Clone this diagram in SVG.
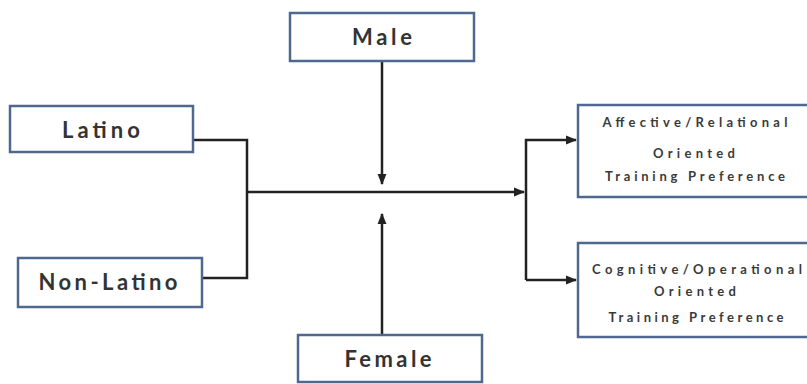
<svg xmlns="http://www.w3.org/2000/svg" width="807" height="384" viewBox="0 0 807 384">
<defs>
<marker id="ah" viewBox="0 0 10 10" refX="9" refY="5" markerWidth="4.5" markerHeight="4.5" orient="auto" markerUnits="strokeWidth">
<path d="M0,1 L10,5 L0,9 z" fill="#222"/>
</marker>
<style>
.box{fill:#fff;stroke:#4e6890;stroke-width:2.5}
.lbl{font-family:Lato,"Liberation Sans",sans-serif;font-weight:bold;font-size:22px;fill:#333;text-anchor:middle}
.sm{font-family:Lato,"Liberation Sans",sans-serif;font-weight:bold;font-size:13px;fill:#3a3a3a;text-anchor:middle}
.ln{fill:none;stroke:#222;stroke-width:2.5}
</style>
</defs>
<rect width="807" height="384" fill="#fff"/>
<g id="connectors">
<path class="ln" d="M382,61 V184" marker-end="url(#ah)"/>
<path class="ln" d="M382,335 V214" marker-end="url(#ah)"/>
<path class="ln" d="M193,140 H247 V278 H202"/>
<path class="ln" d="M247,192 H524" marker-end="url(#ah)"/>
<path class="ln" d="M526,280 V140 H576" marker-end="url(#ah)"/>
<path class="ln" d="M526,280 H576" marker-end="url(#ah)"/>
</g>
<g id="male">
<rect class="box" x="290" y="13" width="184" height="48"/>
<text class="lbl" x="382" y="45" textLength="60" lengthAdjust="spacing">Male</text>
</g>
<g id="latino">
<rect class="box" x="10" y="106" width="183" height="46"/>
<text class="lbl" x="101" y="138" textLength="78" lengthAdjust="spacing">Latino</text>
</g>
<g id="nonlatino">
<rect class="box" x="18" y="258" width="184" height="49"/>
<text class="lbl" x="108" y="290" textLength="139" lengthAdjust="spacing">Non-Latino</text>
</g>
<g id="female">
<rect class="box" x="298" y="335" width="184" height="47"/>
<text class="lbl" x="388" y="367" textLength="87" lengthAdjust="spacing">Female</text>
</g>
<g id="affective">
<rect class="box" x="578" y="105" width="240" height="92"/>
<text class="sm" x="695" y="127" textLength="185" lengthAdjust="spacing">Affective/Relational</text>
<text class="sm" x="694" y="158" textLength="82" lengthAdjust="spacing">Oriented</text>
<text class="sm" x="695" y="181" textLength="180" lengthAdjust="spacing">Training Preference</text>
</g>
<g id="cognitive">
<rect class="box" x="578" y="243" width="240" height="94"/>
<text class="sm" x="697" y="274" textLength="210" lengthAdjust="spacing">Cognitive/Operational</text>
<text class="sm" x="695" y="296" textLength="82" lengthAdjust="spacing">Oriented</text>
<text class="sm" x="696" y="322" textLength="175" lengthAdjust="spacing">Training Preference</text>
</g>
</svg>
